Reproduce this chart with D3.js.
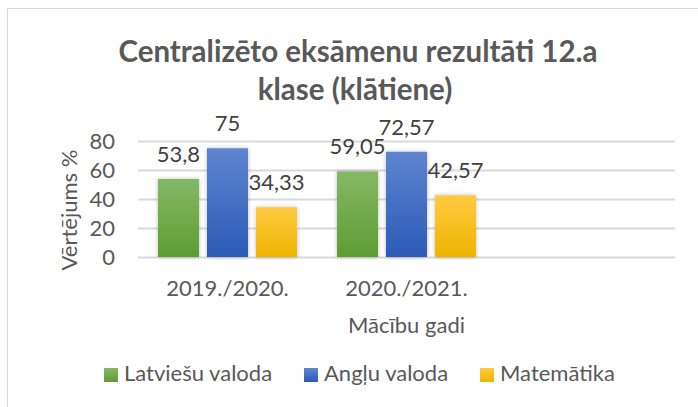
<html>
<head>
<meta charset="utf-8">
<script src="https://d3js.org/d3.v7.min.js"></script>
<style>
  body { margin: 0; background: white; }
  text { font-family: Lato, "Open Sans", sans-serif; }
</style>
</head>
<body>
<svg id="chart" width="698" height="407"></svg>
<script>
  // data
  var categories = ["2019./2020.", "2020./2021.", ""];
  var seriesNames = ["Latviešu valoda", "Angļu valoda", "Matemātika"];
  var latviesu = [53.8, 59.05];
  var anglu = [75, 72.57];
  var matematika = [34.33, 42.57];
  var yTicks = [0, 20, 40, 60, 80];

  var seriesValues = [latviesu, anglu, matematika];
  var colorsTop = ["#84b964", "#5f85cf", "#ffca42"];
  var colorsBottom = ["#5f9c33", "#2b5ab7", "#eeb400"];

  var svg = d3.select("#chart");

  var defs = svg.append("defs");
  seriesNames.forEach(function(s, i) {
    var g = defs.append("linearGradient")
      .attr("id", "grad" + i)
      .attr("x1", 0).attr("y1", 0).attr("x2", 0).attr("y2", 1);
    g.append("stop").attr("offset", "0%").attr("stop-color", colorsTop[i]);
    g.append("stop").attr("offset", "100%").attr("stop-color", colorsBottom[i]);
  });
  var shadow = defs.append("filter").attr("id", "shadow")
    .attr("x", "-30%").attr("y", "-10%").attr("width", "160%").attr("height", "120%");
  shadow.append("feDropShadow")
    .attr("dx", 0).attr("dy", 0).attr("stdDeviation", 2)
    .attr("flood-color", "#000").attr("flood-opacity", 0.25);

  // chart border
  svg.append("rect")
    .attr("x", 7.5).attr("y", 8.5)
    .attr("width", 700).attr("height", 420)
    .attr("fill", "white")
    .attr("stroke", "#d9d9d9")
    .attr("stroke-width", 1);

  var plotLeft = 138, plotRight = 675, plotTop = 141, plotBottom = 257;

  var x0 = d3.scaleBand()
    .domain(categories)
    .range([plotLeft, plotRight]);

  var x1 = d3.scaleBand()
    .domain(seriesNames)
    .range([0, x0.bandwidth()])
    .paddingInner(0.163)
    .paddingOuter(0.408);

  var y = d3.scaleLinear()
    .domain([0, 80])
    .range([plotBottom, plotTop]);

  // title
  var title = svg.append("text")
    .attr("text-anchor", "middle")
    .attr("fill", "#595959")
    .style("font-size", "29.5px")
    .style("font-weight", "bold");
  title.append("tspan").attr("x", 358).attr("y", 62).text("Centralizēto eksāmenu rezultāti 12.a");
  title.append("tspan").attr("x", 355).attr("y", 100).text("klase (klātiene)");

  // gridlines
  svg.append("g")
    .attr("transform", "translate(" + plotLeft + ",0)")
    .call(d3.axisLeft(y).tickValues(yTicks).tickSize(-(plotRight - plotLeft)).tickFormat(""))
    .call(function(g) { g.select(".domain").remove(); })
    .call(function(g) {
      g.selectAll(".tick line").attr("stroke", "#d9d9d9").attr("stroke-width", 2);
    });

  // y tick labels
  svg.append("g")
    .attr("transform", "translate(115,0)")
    .call(d3.axisLeft(y).tickValues(yTicks).tickSize(0).tickPadding(0))
    .call(function(g) { g.select(".domain").remove(); })
    .call(function(g) {
      g.selectAll("text")
        .attr("fill", "#595959")
        .style("font-size", "22px")
        .style("font-family", "Lato, sans-serif")
        .attr("dy", "0.36em");
    });

  // x tick labels
  svg.append("g")
    .attr("transform", "translate(0," + plotBottom + ")")
    .call(d3.axisBottom(x0).tickSize(0).tickPadding(0))
    .call(function(g) { g.select(".domain").remove(); })
    .call(function(g) {
      g.selectAll("text")
        .attr("fill", "#595959")
        .attr("y", 39)
        .attr("dy", 0)
        .style("font-size", "22px")
        .style("font-family", "Lato, sans-serif");
    });

  // bars
  var groups = svg.append("g").selectAll("g")
    .data(categories.slice(0, latviesu.length))
    .enter()
    .append("g")
      .attr("transform", function(d) { return "translate(" + x0(d) + ",0)"; });

  groups.selectAll("rect")
    .data(function(d, ci) {
      return seriesNames.map(function(s, si) { return { s: s, i: si, v: seriesValues[si][ci] }; });
    })
    .enter()
    .append("rect")
      .attr("x", function(d) { return x1(d.s); })
      .attr("y", function(d) { return y(d.v); })
      .attr("width", x1.bandwidth())
      .attr("height", function(d) { return y(0) - y(d.v); })
      .attr("fill", function(d) { return "url(#grad" + d.i + ")"; })
      .attr("filter", "url(#shadow)");

  groups.selectAll("text.lbl")
    .data(function(d, ci) {
      return seriesNames.map(function(s, si) { return { s: s, i: si, v: seriesValues[si][ci] }; });
    })
    .enter()
    .append("text")
      .attr("class", "lbl")
      .attr("x", function(d) { return x1(d.s) + x1.bandwidth() / 2; })
      .attr("y", function(d) { return y(d.v) - 17; })
      .attr("text-anchor", "middle")
      .attr("fill", "#404040")
      .style("font-size", "22px")
      .text(function(d) { return String(d.v).replace(".", ","); });

  // axis titles
  svg.append("text")
    .attr("transform", "translate(77,210) rotate(-90)")
    .attr("text-anchor", "middle")
    .attr("fill", "#595959")
    .style("font-size", "22px")
    .text("Vērtējums %");

  svg.append("text")
    .attr("x", (plotLeft + plotRight) / 2)
    .attr("y", 333)
    .attr("text-anchor", "middle")
    .attr("fill", "#595959")
    .style("font-size", "22px")
    .text("Mācību gadi");

  // legend
  var legendX = [104, 304, 480];
  var legend = svg.append("g").selectAll("g")
    .data(seriesNames)
    .enter()
    .append("g")
      .attr("transform", function(d, i) { return "translate(" + legendX[i] + ",368)"; });
  legend.append("rect")
    .attr("width", 14).attr("height", 14)
    .attr("fill", function(d, i) { return "url(#grad" + i + ")"; });
  legend.append("text")
    .attr("x", 20)
    .attr("y", 13)
    .attr("fill", "#595959")
    .style("font-size", "22px")
    .text(function(d) { return d; });
</script>
</body>
</html>
